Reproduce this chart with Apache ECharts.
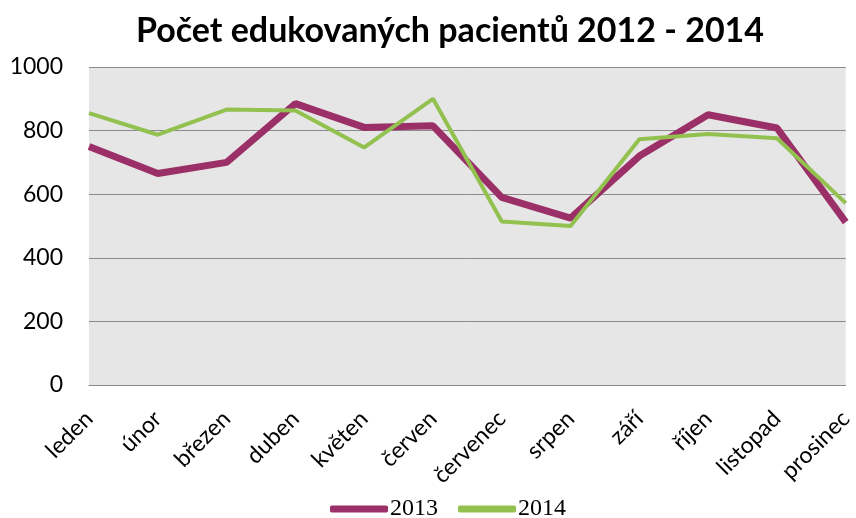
<!DOCTYPE html>
<html>
<head>
<meta charset="utf-8">
<script src="https://cdn.jsdelivr.net/npm/echarts@6/dist/echarts.min.js"></script>
<style>
  html, body { margin: 0; padding: 0; background: #fff; }
  #chart { width: 856px; height: 518px; }
</style>
</head>
<body>
<div id="chart"></div>
<script>
var months = ['leden', 'únor', 'březen', 'duben', 'květen', 'červen',
              'červenec', 'srpen', 'září', 'říjen', 'listopad', 'prosinec'];
var values2013 = [750, 665, 700, 885, 810, 815, 590, 525, 720, 850, 808, 512];
var values2014 = [855, 787, 866, 863, 747, 900, 514, 500, 773, 789, 776, 572];
var yTicks = [0, 200, 400, 600, 800, 1000];

var chart = echarts.init(document.getElementById('chart'));

var option = {
    backgroundColor: '#ffffff',
    animation: false,
    title: {
        text: 'Počet edukovaných pacientů 2012 - 2014',
        left: 445,
        textAlign: 'center',
        top: 9,
        textStyle: {
            fontFamily: 'Lato',
            fontWeight: 'bold',
            fontSize: 34,
            color: '#000'
        }
    },
    legend: {
        top: 497,
        left: 330,
        padding: 0,
        itemWidth: 58,
        itemHeight: 7,
        itemGap: 20,
        icon: 'roundRect',
        textStyle: {
            fontFamily: 'Liberation Serif',
            fontSize: 24,
            lineHeight: 24,
            color: '#000',
            padding: [0, 0, 0, -3]
        },
        data: ['2013', '2014']
    },
    grid: {
        left: 89,
        right: 6,
        top: 67,
        bottom: 133,
        show: true,
        backgroundColor: '#e6e6e6',
        borderWidth: 0
    },
    xAxis: {
        type: 'category',
        data: months,
        boundaryGap: false,
        axisLine: { show: true, lineStyle: { color: '#8a8a8a', width: 1 } },
        axisTick: { show: false },
        axisLabel: {
            rotate: 45,
            interval: 0,
            margin: 30,
            fontFamily: 'Lato',
            fontSize: 23,
            color: '#000'
        }
    },
    yAxis: {
        type: 'value',
        min: yTicks[0],
        max: yTicks[yTicks.length - 1],
        interval: 200,
        axisLine: { show: false },
        axisTick: { show: false },
        axisLabel: {
            margin: 26,
            fontFamily: 'Lato',
            fontSize: 23,
            color: '#000',
            formatter: function (v) { return String(v); }
        },
        splitLine: { show: true, lineStyle: { color: '#8a8a8a', width: 1 } }
    },
    series: [
        {
            name: '2013',
            type: 'line',
            data: values2013,
            showSymbol: false,
            symbol: 'none',
            color: '#9b2f68',
            lineStyle: { width: 7, color: '#9b2f68' }
        },
        {
            name: '2014',
            type: 'line',
            data: values2014,
            showSymbol: false,
            symbol: 'none',
            color: '#93c14f',
            lineStyle: { width: 4, color: '#93c14f' }
        }
    ]
};

chart.setOption(option);
</script>
</body>
</html>
